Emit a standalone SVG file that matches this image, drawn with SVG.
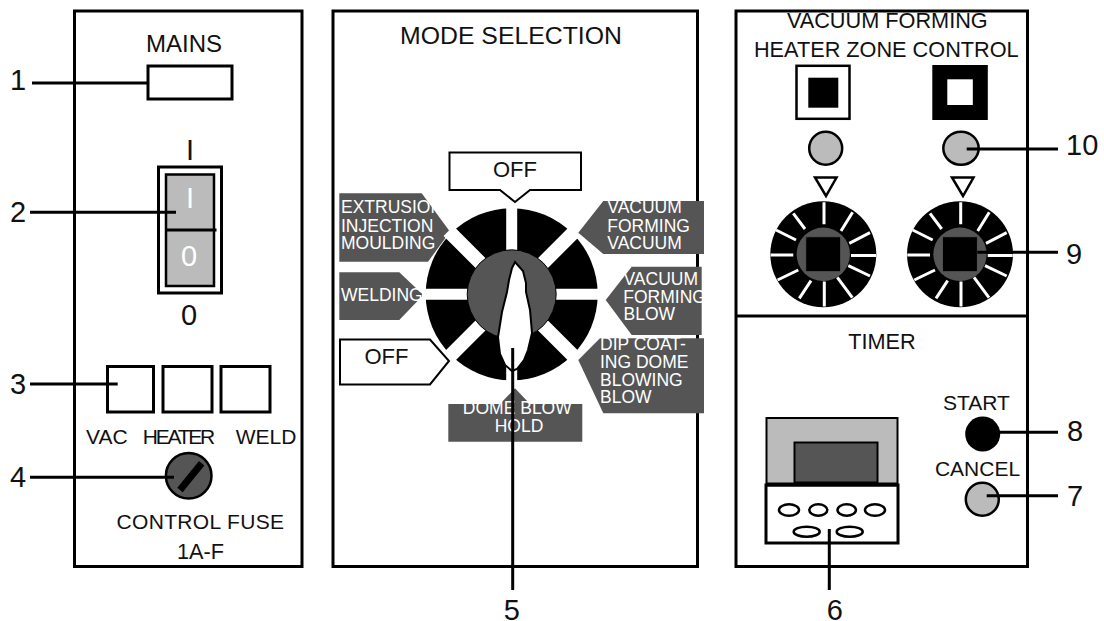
<svg xmlns="http://www.w3.org/2000/svg" width="1104" height="621" viewBox="0 0 1104 621">
<style>
text{font-family:"Liberation Sans",Arial,sans-serif;fill:#111}
.l{font-size:21px}.c{text-anchor:middle}
.lg{font-size:21.700px}
.h{font-size:24px}
.hm{font-size:24.800px}
.n{font-size:29px}
.t{font-size:17.500px;fill:#fff}
.panel{fill:#fff;stroke:#000;stroke-width:3}
.tag{fill:#555}
.tagw{fill:#fff;stroke:#000;stroke-width:2}
.box{fill:#fff;stroke:#000;stroke-width:3}
.cn{stroke:#000;stroke-width:3;fill:none}
.tk{stroke:#fff;stroke-width:3;fill:none}
.gap{stroke:#fff;stroke-width:11;fill:none}
.gapd{stroke:#fff;stroke-width:14;fill:none}
.led{fill:#bbb;stroke:#000;stroke-width:2.500}
.ov{fill:#fff;stroke:#000;stroke-width:2.500}
</style>
<defs>
<g id="ticks">
<circle r="53" fill="#000"/>
<path class="tk" d="M.7-52V-30M27.7 1.3H52.7M-52.7 .7H-30M1 27.3V52.3M-30-41-18.3-25.3M29.3-42 17.7-23.3M-47.3-24.3-27.3-14.3M46.7-21.7 26-11M-45.7 25.7-25 15.7M46.7 21.7 25 11.3M-24 44-12.3 26.3M29 43.3 14 23"/>
<circle r="26.700" fill="#555"/>
<rect x="-17.600" y="-17.600" width="35" height="35" fill="#000" stroke="#555" stroke-width="1"/>
</g>
</defs>
<rect width="1104" height="621" fill="#fff"/>

<g id="panel-mains">
<rect class="panel" x="74.500" y="11" width="227.500" height="555.500"/>
<text class="h c" x="184" y="52">MAINS</text>
<rect id="mains-lamp" class="box" x="148" y="66" width="84" height="33"/>
</g>
<g id="switch">
<text class="c" x="190" y="160" font-size="29">I</text>
<rect class="box" x="158.500" y="167" width="63" height="126"/>
<rect x="166" y="174.500" width="48" height="111.500" fill="#bbb" stroke="#000" stroke-width="2.500"/>
<path d="M166 230H216.500" stroke="#000" stroke-width="3"/>
<text class="c" x="190" y="208" font-size="29" style="fill:#fff">I</text>
<text class="c" x="189" y="266" font-size="29" style="fill:#fff">0</text>
<text class="c" x="189" y="325" font-size="29">0</text>
</g>
<g id="indicators">
<rect class="box" x="107.500" y="366.500" width="46" height="45.500"/>
<rect class="box" x="163" y="366.500" width="49" height="45.500"/>
<rect class="box" x="221" y="366.500" width="49" height="45.500"/>
<text class="l" x="86" y="444">VAC</text>
<text class="l" x="142.700" y="444" textLength="72.500" lengthAdjust="spacing">HEATER</text>
<text class="l" x="235.700" y="444">WELD</text>
</g>
<g id="fuse">
<circle cx="188.700" cy="475.700" r="22.800" fill="#555" stroke="#000" stroke-width="2.500"/>
<path d="M180 490 201.700 463.300" stroke="#000" stroke-width="7"/>
<text class="l" x="116.500" y="529" textLength="167.500" lengthAdjust="spacing">CONTROL FUSE</text>
<text class="lg c" x="200.500" y="558.500">1A-F</text>
</g>

<g id="panel-mode">
<rect class="panel" x="333" y="11" width="364.500" height="555.500"/>
<text class="hm c" x="511" y="44">MODE SELECTION</text>
</g>
<g id="tag-off-top">
<path class="tagw" d="M449.500 152.500H581V190H530L515 202 500 190H449.500Z"/>
<text class="c" x="515" y="177" font-size="22">OFF</text>
</g>
<g id="tag-extrusion">
<path class="tag" d="M339.300 193.300H421.700L450 231.700 428 261.700H339.300Z"/>
<text class="t" x="341" y="213.300">EXTRUSION</text>
<text class="t" x="341" y="231.700">INJECTION</text>
<text class="t" x="341" y="249">MOULDING</text>
</g>
<g id="tag-welding">
<path class="tag" d="M339.300 272.300H399.300L423.300 295 399.300 320H339.300Z"/>
<text class="t" x="341" y="301">WELDING</text>
</g>
<g id="tag-off-left">
<path class="tagw" d="M340 339.500H430L449 361 430 384.500H340Z"/>
<text class="c" x="386.500" y="364" font-size="22">OFF</text>
</g>
<g id="tag-vacuum">
<path class="tag" d="M578.300 232.700 603.300 201H704V254H603.300Z"/>
<text class="t" x="607.300" y="212.700">VACUUM</text>
<text class="t" x="607.300" y="231.700">FORMING</text>
<text class="t" x="607.300" y="249">VACUUM</text>
</g>
<g id="tag-vacuum-blow">
<path class="tag" d="M605.700 300 631.700 266.700H701.700V335H631.700Z"/>
<text class="t" x="623.500" y="285">VACUUM</text>
<text class="t" x="623.300" y="302.700">FORMING</text>
<text class="t" x="623.500" y="320">BLOW</text>
</g>
<g id="tag-dip">
<path class="tag" d="M578.300 360 600 338.300H704V413.300H603.300Z"/>
<text class="t" x="600" y="350">DIP COAT-</text>
<text class="t" x="600" y="368.300">ING DOME</text>
<text class="t" x="600" y="385.700">BLOWING</text>
<text class="t" x="600" y="403.300">BLOW</text>
</g>
<g id="tag-dome">
<path class="tag" d="M448.300 404H500L515 388.300 530 404H582.300V441.700H448.300Z"/>
<text class="t c" x="517.300" y="414">DOME BLOW</text>
<text class="t c" x="519" y="431.700">HOLD</text>
</g>
<g id="mode-dial">
<circle cx="511.700" cy="294.300" r="86" fill="#000"/>
<path class="gap" d="M511.700 205V384M422 294.300H602"/>
<path class="gapd" d="M448.500 231 575 357.500M575 231 448.500 357.500"/>
<circle cx="511.700" cy="294.300" r="44.500" fill="#555" stroke="#000" stroke-width="1"/>
<path d="M515 262 523 271 526 283 526 292 530 310 532 333 528 350 524 360 517 369 512 371 505 365 500 354 498 337 502 312 507 292 509 280 512 268Z" fill="#fff" stroke="#000" stroke-width="2"/>
</g>

<g id="panel-right">
<rect class="panel" x="736" y="11" width="291.500" height="555.500"/>
<path d="M736 316H1028" stroke="#000" stroke-width="3"/>
<text class="lg c" x="887.300" y="27.700">VACUUM FORMING</text>
<text class="lg c" x="886.300" y="56.700">HEATER ZONE CONTROL</text>
<text class="lg c" x="882" y="349">TIMER</text>
</g>
<g id="zone-1">
<rect x="796.500" y="65.800" width="53" height="53" fill="#fff" stroke="#000" stroke-width="2.500"/>
<rect x="808.300" y="77.700" width="30" height="30" fill="#000"/>
<circle class="led" cx="825.700" cy="148.300" r="16.500"/>
<path d="M815 177.500H836.500L826 196Z" fill="#fff" stroke="#000" stroke-width="2.500"/>
<use href="#ticks" x="823.300" y="254.300"/>
</g>
<g id="zone-2">
<rect x="932.300" y="65" width="55.500" height="55" fill="#000"/>
<rect x="947.300" y="79.300" width="25.500" height="25.700" fill="#fff"/>
<ellipse class="led" cx="961" cy="148.300" rx="17.700" ry="16.500"/>
<path d="M952 177.500H973.500L963 196Z" fill="#fff" stroke="#000" stroke-width="2.500"/>
<use href="#ticks" x="960" y="254.300"/>
</g>
<g id="timer">
<rect x="766.500" y="418" width="131" height="67" fill="#bbb" stroke="#000" stroke-width="2"/>
<rect x="794.500" y="442.500" width="83" height="40" fill="#555" stroke="#000" stroke-width="2"/>
<rect x="766" y="485" width="132" height="58" fill="#fff" stroke="#000" stroke-width="3"/>
<path d="M766 484.500H898" stroke="#000" stroke-width="4"/>
<ellipse class="ov" cx="789" cy="510" rx="10" ry="5.700"/>
<ellipse class="ov" cx="818.300" cy="510" rx="9" ry="5.700"/>
<ellipse class="ov" cx="846.700" cy="510" rx="9.200" ry="5.700"/>
<ellipse class="ov" cx="875" cy="510" rx="10" ry="5.700"/>
<ellipse class="ov" cx="806.700" cy="531.700" rx="13" ry="5"/>
<ellipse class="ov" cx="849.700" cy="531.700" rx="13" ry="5"/>
</g>
<g id="start">
<text class="l c" x="976.500" y="410">START</text>
<circle cx="982.700" cy="434" r="17.500" fill="#000"/>
</g>
<g id="cancel">
<text class="l c" x="977.500" y="476">CANCEL</text>
<circle class="led" cx="982.300" cy="499.300" r="16.500"/>
</g>

<g id="connectors">
<path class="cn" d="M32 83H148M30 212.300H176M30 384H117.700M30 477.300H174M512.700 348V590M829.300 529V590M966.700 149H1058M977.300 252.300H1058M982 432.300H1058M986.700 495.700H1058"/>
</g>
<g id="numbers">
<text class="n" x="10" y="90">1</text>
<text class="n" x="10" y="222">2</text>
<text class="n" x="10" y="394">3</text>
<text class="n" x="10" y="487">4</text>
<text class="n c" x="511.700" y="620">5</text>
<text class="n c" x="834.700" y="620">6</text>
<text class="n" x="1067" y="506">7</text>
<text class="n" x="1067" y="441">8</text>
<text class="n" x="1066" y="264">9</text>
<text class="n" x="1066" y="155">10</text>
</g>
</svg>
